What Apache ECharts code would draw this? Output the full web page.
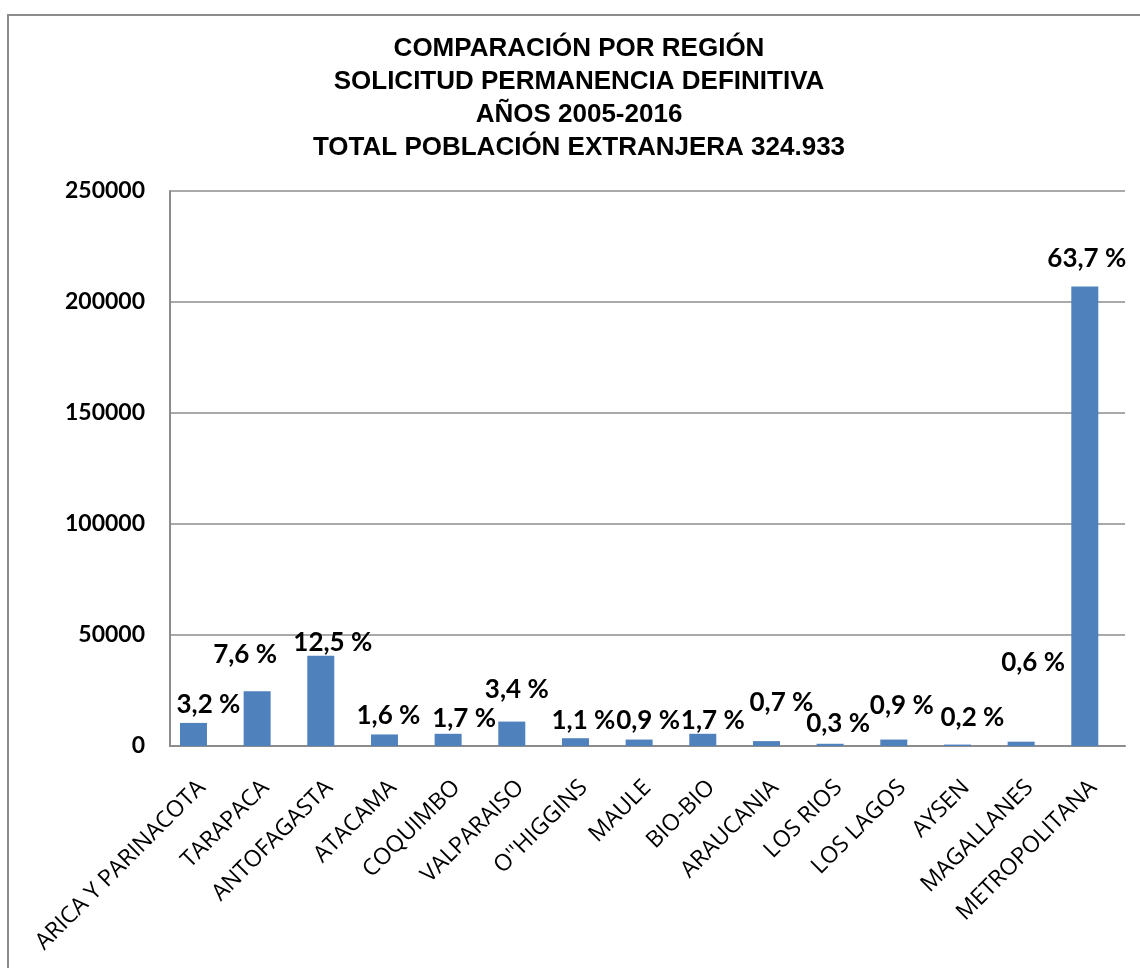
<!DOCTYPE html>
<html>
<head>
<meta charset="utf-8">
<title>Comparación por región</title>
<script src="https://cdn.jsdelivr.net/npm/echarts@6/dist/echarts.min.js"></script>
<style>
  html, body { margin: 0; padding: 0; background: #fff; }
  #chart { width: 1140px; height: 968px; }
</style>
</head>
<body>
<div id="chart"></div>
<script>
// datos
const regiones = [
  'ARICA Y PARINACOTA', 'TARAPACA', 'ANTOFAGASTA', 'ATACAMA', 'COQUIMBO',
  'VALPARAISO', "O''HIGGINS", 'MAULE', 'BIO-BIO', 'ARAUCANIA',
  'LOS RIOS', 'LOS LAGOS', 'AYSEN', 'MAGALLANES', 'METROPOLITANA'
]
const solicitudes = [
  10400, 24700, 40600, 5200, 5500,
  11000, 3500, 2900, 5500, 2200,
  1000, 2900, 650, 1950, 207000
]
const porcentajes = [
  '3,2 %', '7,6 %', '12,5 %', '1,6 %', '1,7 %',
  '3,4 %', '1,1 %', '0,9 %', '1,7 %', '0,7 %',
  '0,3 %', '0,9 %', '0,2 %', '0,6 %', '63,7 %'
]
const tituloLineas = [
  'COMPARACIÓN POR REGIÓN',
  'SOLICITUD PERMANENCIA DEFINITIVA',
  'AÑOS 2005-2016',
  'TOTAL POBLACIÓN EXTRANJERA 324.933'
]

// posición manual de las etiquetas (como en el gráfico original)
const labelOffsets = [
  [15, -5], [-12, -24], [12, 0], [4, -6], [16, -2],
  [5, -19], [8, -5], [9, -6], [10, 0], [15, -26],
  [8, -7], [8, -21], [15, -14], [12, -66], [2, -15]
]

const gris = '#8c8c8c'
const chart = echarts.init(document.getElementById('chart'))

const option = {
  animation: false,
  backgroundColor: '#fff',
  title: {
    text: tituloLineas.join('\n'),
    left: 574,
    textAlign: 'center',
    top: 27,
    textStyle: {
      fontFamily: 'Liberation Sans',
      fontSize: 26,
      fontWeight: 'bold',
      color: '#000',
      lineHeight: 33
    }
  },
  graphic: [{
    type: 'polyline',
    shape: { points: [[8, 970], [8, 15], [1142, 15]] },
    style: { stroke: gris, lineWidth: 2, fill: null }
  }],
  grid: {
    left: 170,
    right: 15,
    top: 191,
    bottom: 222
  },
  xAxis: {
    type: 'category',
    data: regiones,
    axisLine: { lineStyle: { color: gris, width: 2 } },
    axisTick: { show: false },
    axisLabel: {
      interval: 0,
      rotate: 45,
      margin: 38,
      color: '#000',
      fontFamily: 'Open Sans',
      fontSize: 23
    }
  },
  yAxis: {
    type: 'value',
    min: 0,
    max: 250000,
    interval: 50000,
    axisLine: { show: true, lineStyle: { color: gris, width: 2 } },
    axisTick: { show: false },
    axisLabel: {
      margin: 25,
      color: '#000',
      fontFamily: 'Lato',
      fontWeight: 'bold',
      fontSize: 23,
      formatter: v => String(v)
    },
    splitLine: { lineStyle: { color: gris, width: 1.5 } }
  },
  series: [
    {
      type: 'bar',
      barWidth: 27,
      barGap: '-38%',
      itemStyle: { color: '#4f81bd' },
      data: solicitudes.map((v, i) => ({
        value: v,
        label: {
          show: true,
          position: 'top',
          distance: 0,
          offset: labelOffsets[i],
          formatter: porcentajes[i]
        }
      })),
      label: {
        color: '#000',
        fontFamily: 'Lato',
        fontWeight: 'bold',
        fontSize: 26,
        lineHeight: 26
      }
    },
    {
      // serie vacía: desplaza las barras a la izquierda como en Excel
      type: 'bar',
      barWidth: 27,
      data: regiones.map(() => null)
    }
  ]
}

chart.setOption(option)
</script>
</body>
</html>
